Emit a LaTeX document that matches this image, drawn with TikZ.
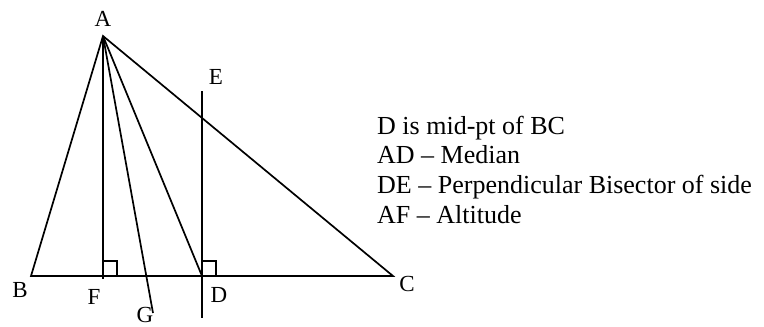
\documentclass[tikz,border=0pt]{standalone}
\usepackage{fontspec}
\setmainfont{Liberation Serif}
\usepackage{tikz}
\usetikzlibrary{positioning}
\tikzstyle{edge} = [line width=1.7pt, line join=miter]
\tikzstyle{tick} = [line width=1.4pt]
\tikzstyle{pt} = [font=\fontsize{23}{23}\selectfont, inner sep=0pt]
\tikzstyle{note} = [font=\fontsize{26}{26}\selectfont, inner sep=0pt, anchor=base west]

\begin{document}
\begin{tikzpicture}[x=1pt, y=-1pt]
    \useasboundingbox (0,0) rectangle (764,327);
    % Points
    \coordinate (A) at (103,36);
    \coordinate (B) at (31,276);
    \coordinate (C) at (393,276);
    \coordinate (D) at (202,276);
    \coordinate (F) at (103,276);
    \coordinate (Fend) at (103,279);
    \coordinate (G) at (153,313);
    \coordinate (E) at (202,91);
    \coordinate (Eend) at (202,318);

    % Triangle and cevians
    \draw[edge] (A) -- (B) -- (C) -- cycle;
    \draw[edge] (A) -- (Fend);
    \draw[edge] (A) -- (G);
    \draw[edge] (A) -- (D);
    \draw[edge] (E) -- (Eend);

    % Right angles
    \draw[tick] (F) ++(0,-15) -- ++(14,0) -- ++(0,15);
    \draw[tick] (D) ++(0,-15) -- ++(14,0) -- ++(0,15);

    % Labels
    \node[pt] (lA) at (103,19) {A};
    \node[pt] (lE) at (216,77) {E};
    \node[pt] (lB) at (20,290) {B};
    \node[pt] (lF) at (94,297) {F};
    \node[pt] (lG) at (145,315) {G};
    \node[pt] (lD) at (219,295) {D};
    \node[pt] (lC) at (407,284) {C};

    % Notes
    \node[note] (mid) at (377,134) {D is mid-pt of BC};
    \node[note, below=29.7pt of mid.base west, anchor=base west] (median) {AD -- Median};
    \node[note, below=29.7pt of median.base west, anchor=base west] (bisect) {DE -- Perpendicular Bisector of side};
    \node[note, below=29.7pt of bisect.base west, anchor=base west] (alt) {AF -- Altitude};
\end{tikzpicture}
\end{document}
